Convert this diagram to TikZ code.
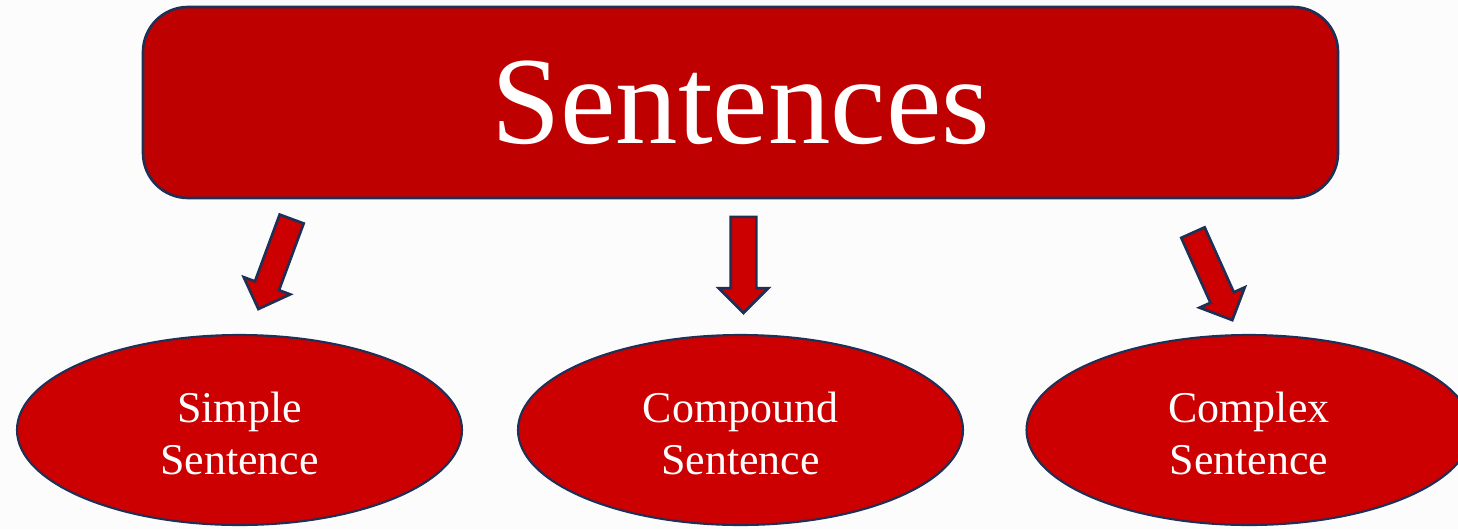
\documentclass[tikz,border=0pt]{standalone}
\usepackage{fontspec}
\setmainfont{Liberation Serif}
\usetikzlibrary{shapes.geometric,shapes.arrows}
\definecolor{boxred}{RGB}{190,0,0}
\definecolor{ovalred}{RGB}{204,0,0}
\definecolor{edgeblue}{RGB}{31,48,86}
\definecolor{paper}{RGB}{252,252,252}

\begin{document}
\begin{tikzpicture}
\tikzstyle{title box}=[rectangle,rounded corners=0.9cm,fill=boxred,draw=edgeblue,line width=1.5pt,minimum width=23.9cm,minimum height=3.82cm,text=white,font=\fontsize{71}{80}\selectfont]
\tikzstyle{kind}=[ellipse,fill=ovalred,draw=edgeblue,line width=1.2pt,minimum width=8.9cm,minimum height=3.8cm,inner sep=0pt,text=white,font=\fontsize{25}{29.6}\selectfont]
\tikzstyle{block arrow}=[single arrow,fill=ovalred,draw=edgeblue,line width=1.5pt,minimum height=1.92cm,minimum width=0.94cm,inner xsep=0pt,inner ysep=0.23cm,single arrow head extend=0.24cm]

% Page
\useasboundingbox (0,0) rectangle (29.16,10.58);
\fill[paper] (0,0) rectangle (29.16,10.58);

% Draw the title box
\node[title box] (T) at (14.81,8.53) {\raisebox{-0.06cm}{Sentences}};

% Draw the sentence kinds
\foreach \name / \x / \txt in {simple/4.79/{Simple\\Sentence},compound/14.81/{Compound\\Sentence},complex/24.98/{Complex\\Sentence}}
\node[kind] (K-\name) at (\x,1.98) {\raisebox{-0.38cm}[0pt][0pt]{\begin{tabular}{@{}c@{}}\txt\end{tabular}}};

% Draw the arrows
\node[block arrow,rotate=-110.3] (A-simple) at (5.545,5.42) {};
\node[block arrow,rotate=-90] (A-compound) at (14.87,5.41) {};
\node[block arrow,rotate=-65.8] (A-complex) at (24.2,5.17) {};

\end{tikzpicture}
\end{document}
